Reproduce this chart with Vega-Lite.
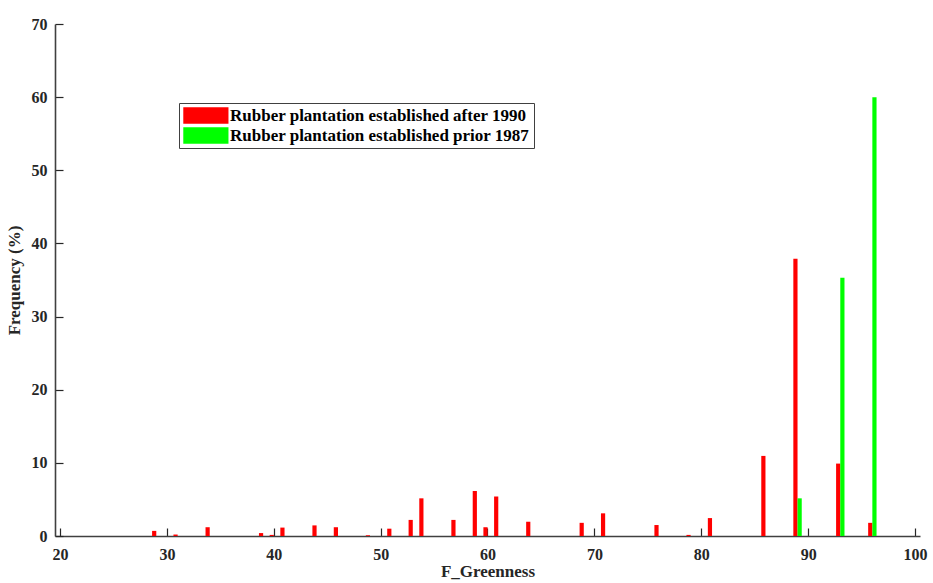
{
  "$schema": "https://vega.github.io/schema/vega-lite/v6.json",
  "width": 865,
  "height": 512,
  "autosize": {"type": "none"},
  "padding": {"left": 55, "top": 24, "right": 13, "bottom": 47},
  "background": "white",
  "config": {
    "view": {"stroke": null},
    "font": "Liberation Serif",
    "axis": {
      "domainColor": "#404040",
      "domainWidth": 1.6,
      "tickColor": "#262626",
      "tickWidth": 1.2,
      "grid": false,
      "labelFont": "Liberation Serif",
      "labelFontWeight": "bold",
      "labelFontSize": 16,
      "labelColor": "#262626",
      "titleFont": "Liberation Serif",
      "titleFontWeight": "bold",
      "titleFontSize": 17,
      "titleColor": "#262626",
      "zindex": 1
    }
  },
  "data": {
    "values": [
      {"F": 29, "freq": 0.7, "group": "Rubber plantation established after 1990"},
      {"F": 31, "freq": 0.2, "group": "Rubber plantation established after 1990"},
      {"F": 34, "freq": 1.2, "group": "Rubber plantation established after 1990"},
      {"F": 39, "freq": 0.4, "group": "Rubber plantation established after 1990"},
      {"F": 40, "freq": 0.15, "group": "Rubber plantation established after 1990"},
      {"F": 41, "freq": 1.15, "group": "Rubber plantation established after 1990"},
      {"F": 44, "freq": 1.45, "group": "Rubber plantation established after 1990"},
      {"F": 46, "freq": 1.2, "group": "Rubber plantation established after 1990"},
      {"F": 49, "freq": 0.1, "group": "Rubber plantation established after 1990"},
      {"F": 51, "freq": 1.0, "group": "Rubber plantation established after 1990"},
      {"F": 53, "freq": 2.2, "group": "Rubber plantation established after 1990"},
      {"F": 54, "freq": 5.15, "group": "Rubber plantation established after 1990"},
      {"F": 57, "freq": 2.2, "group": "Rubber plantation established after 1990"},
      {"F": 59, "freq": 6.15, "group": "Rubber plantation established after 1990"},
      {"F": 60, "freq": 1.2, "group": "Rubber plantation established after 1990"},
      {"F": 61, "freq": 5.4, "group": "Rubber plantation established after 1990"},
      {"F": 64, "freq": 1.95, "group": "Rubber plantation established after 1990"},
      {"F": 69, "freq": 1.8, "group": "Rubber plantation established after 1990"},
      {"F": 71, "freq": 3.1, "group": "Rubber plantation established after 1990"},
      {"F": 76, "freq": 1.5, "group": "Rubber plantation established after 1990"},
      {"F": 79, "freq": 0.15, "group": "Rubber plantation established after 1990"},
      {"F": 81, "freq": 2.45, "group": "Rubber plantation established after 1990"},
      {"F": 86, "freq": 10.95, "group": "Rubber plantation established after 1990"},
      {"F": 89, "freq": 37.9, "group": "Rubber plantation established after 1990"},
      {"F": 93, "freq": 9.9, "group": "Rubber plantation established after 1990"},
      {"F": 96, "freq": 1.8, "group": "Rubber plantation established after 1990"},
      {"F": 89, "freq": 5.15, "group": "Rubber plantation established prior 1987"},
      {"F": 93, "freq": 35.3, "group": "Rubber plantation established prior 1987"},
      {"F": 96, "freq": 60.0, "group": "Rubber plantation established prior 1987"}
    ]
  },
  "encoding": {
    "x": {
      "field": "F", "type": "quantitative",
      "scale": {"domain": [20, 100], "nice": false, "zero": false},
      "axis": {
        "values": [20, 30, 40, 50, 60, 70, 80, 90, 100],
        "tickSize": -8,
        "labelPadding": 18,
        "labelBaseline": "top",
        "title": "F_Greenness",
        "titlePadding": 1
      }
    },
    "y": {
      "field": "freq", "type": "quantitative",
      "scale": {"domain": [0, 70], "nice": false},
      "axis": {
        "values": [0, 10, 20, 30, 40, 50, 60, 70],
        "tickSize": -8,
        "labelPadding": 16,
        "title": "Frequency (%)",
        "titlePadding": 8
      }
    },
    "color": {
      "field": "group", "type": "nominal",
      "scale": {
        "domain": ["Rubber plantation established after 1990", "Rubber plantation established prior 1987"],
        "range": ["#ff0000", "#00ff00"]
      },
      "legend": {
        "title": null,
        "orient": "none",
        "legendX": 124,
        "legendY": 79,
        "padding": 4,
        "strokeColor": "#404040",
        "fillColor": "white",
        "symbolType": "M-1,-1L4.5,-1L4.5,1L-1,1Z",
        "symbolSize": 270,
        "symbolStrokeWidth": 0,
        "symbolOpacity": 1,
        "labelOffset": 30,
        "labelFont": "Liberation Serif",
        "labelFontWeight": "bold",
        "labelFontSize": 17,
        "labelColor": "#000000",
        "labelLimit": 600,
        "rowPadding": 2
      }
    }
  },
  "layer": [
    {
      "transform": [{"filter": "datum.group === 'Rubber plantation established after 1990'"}],
      "mark": {"type": "bar", "size": 4.2, "xOffset": -2}
    },
    {
      "transform": [{"filter": "datum.group === 'Rubber plantation established prior 1987'"}],
      "mark": {"type": "bar", "size": 4.2, "xOffset": 2.2}
    }
  ]
}
